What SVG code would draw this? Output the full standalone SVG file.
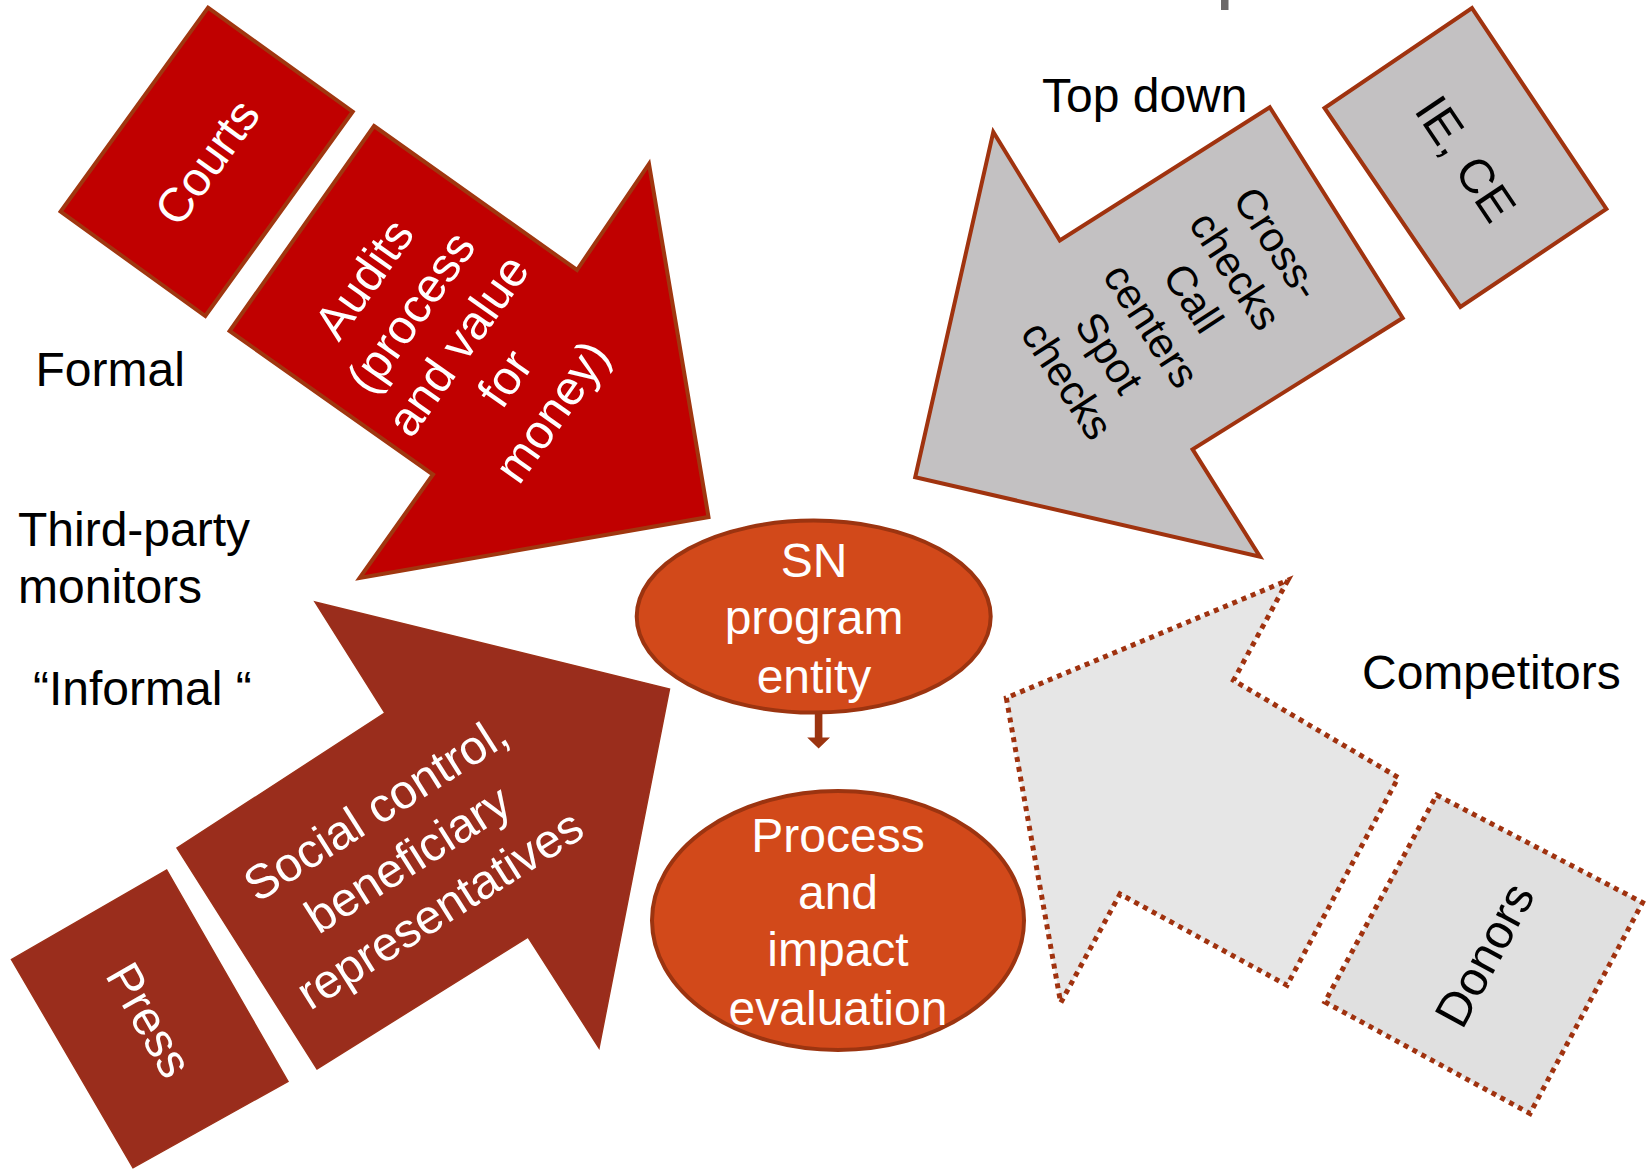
<svg xmlns="http://www.w3.org/2000/svg" width="1646" height="1169" viewBox="0 0 1646 1169">
<style>
.lbl{font-family:"Liberation Sans",Arial,sans-serif;font-size:48px;fill:#000}
.wt{font-family:"Liberation Sans",Arial,sans-serif;font-size:48px;fill:#fff;text-anchor:middle}
.bt{font-family:"Liberation Sans",Arial,sans-serif;font-size:48px;fill:#000;text-anchor:middle}
.red{fill:#C00000;stroke:#A0360F;stroke-width:4;stroke-linejoin:miter}
.brown{fill:#9A2D1C;stroke:#9C3019;stroke-width:1.5}
.grey{fill:#C3C1C2;stroke:#A0330F;stroke-width:4}
.dot{stroke:#A0320F;stroke-width:5;stroke-dasharray:5 5}
.ell{fill:#D2491A;stroke:#9C3410;stroke-width:4}
.conn{fill:#9C3410;stroke:none}
</style>
<rect x="1221" y="0" width="7.5" height="10" fill="#6b6868"/>

<g id="courts">
<polygon class="red" points="208,7.7 352.7,111.7 205.3,316 60.6,211.6"/>
<text class="wt" transform="translate(206.6,161.8) rotate(-54.1)" y="17">Courts</text>
</g>

<g id="audits">
<polygon class="red" points="374,126 577,270 649,164 708.5,517 359.6,578 433,474.5 229.6,331"/>
<text class="wt" transform="translate(459,346) rotate(-54.8)"><tspan x="0" y="-100">Audits</tspan><tspan x="0" y="-42.5">(process</tspan><tspan x="0" y="15">and value</tspan><tspan x="0" y="72.5">for</tspan><tspan x="0" y="130">money)</tspan></text>
</g>

<g id="social">
<polygon class="brown" points="315,602 669.5,689 599,1048 528,937 317,1069 177,848 385,713"/>
<text class="wt" transform="translate(409,861) rotate(-32.4)"><tspan x="0" y="-45.6">Social control,</tspan><tspan x="0" y="14">beneficiary</tspan><tspan x="0" y="73.6">representatives</tspan></text>
</g>

<g id="press">
<polygon class="brown" points="166.7,870 288,1081.4 133,1167.8 11.5,959.4"/>
<text class="wt" transform="translate(149.8,1019.7) rotate(60.2)" y="17">Press</text>
</g>

<g id="topdown">
<polygon class="grey" points="1269.8,107.3 1402.7,318 1192.6,449.4 1260,556.7 915.2,477.2 993.3,132 1059.8,240.4"/>
<text class="bt" style="font-size:42px" transform="translate(1172,312) rotate(56.9)"><tspan x="0" y="-111.5">Cross-</tspan><tspan x="0" y="-61.3">checks</tspan><tspan x="0" y="-11.1">Call</tspan><tspan x="0" y="39.1">centers</tspan><tspan x="0" y="89.3">Spot</tspan><tspan x="0" y="139.5">checks</tspan></text>
</g>

<g id="iece">
<polygon class="grey" points="1472,8.1 1606.4,209 1460.4,307 1324.5,108"/>
<text class="bt" transform="translate(1466,158.5) rotate(56.2)" y="17">IE, CE</text>
</g>

<g id="competitors-arrow">
<polygon class="dot" fill="#E6E6E6" points="1287.9,580.2 1233.5,680.4 1398.3,777.5 1287,985.3 1120,894 1060.7,1002.8 1006.3,697.9"/>
</g>

<g id="donors">
<polygon class="dot" fill="#E0E0E0" points="1436.6,795 1642.5,902.6 1530,1113.5 1324.9,1002"/>
<text class="bt" transform="translate(1485,955) rotate(-61.6)" y="16">Donors</text>
</g>

<g id="sn">
<ellipse class="ell" cx="813.7" cy="616.6" rx="177" ry="96"/>
<text class="wt"><tspan x="814" y="576.8">SN</tspan><tspan x="814" y="634">program</tspan><tspan x="814" y="692.9">entity</tspan></text>
</g>

<g id="evaluation">
<ellipse class="ell" cx="838" cy="920.5" rx="186" ry="129.5"/>
<text class="wt"><tspan x="838" y="851.8">Process</tspan><tspan x="838" y="909">and</tspan><tspan x="838" y="966">impact</tspan><tspan x="838" y="1025">evaluation</tspan></text>
</g>

<g id="connectors">
<polygon class="conn" points="814.8,712 822.4,712 822.4,737.5 830,737.5 818.6,748.5 807.2,737.5 814.8,737.5"/>
</g>

<g id="labels">
<text class="lbl" x="35.5" y="386">Formal</text>
<text class="lbl" x="18" y="546">Third-party</text>
<text class="lbl" x="18" y="602.5">monitors</text>
<text class="lbl" x="33" y="705">“Informal “</text>
<text class="lbl" x="1042" y="112">Top down</text>
<text class="lbl" x="1362" y="689">Competitors</text>
</g>
</svg>
